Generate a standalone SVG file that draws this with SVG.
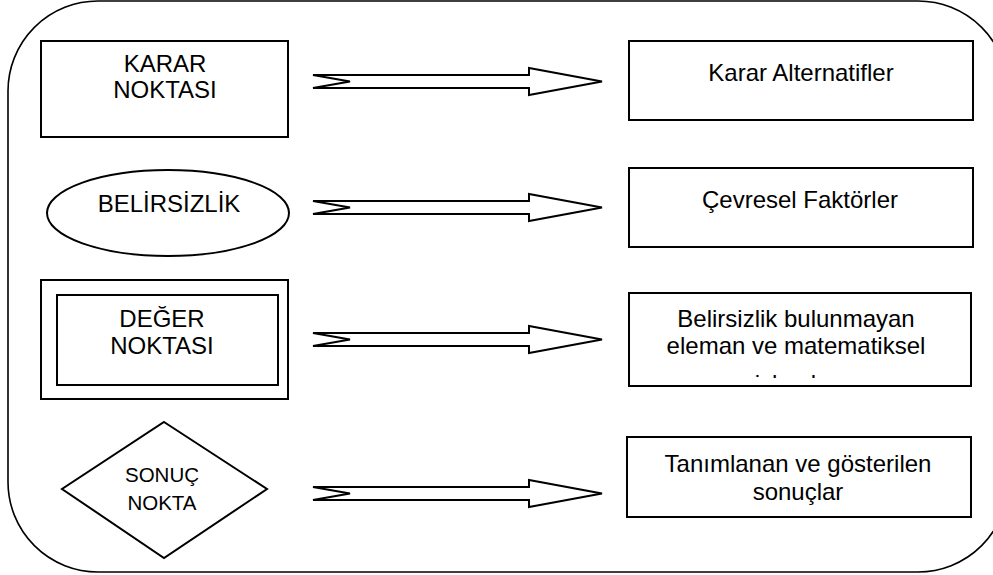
<svg xmlns="http://www.w3.org/2000/svg" width="993" height="575" viewBox="0 0 993 575">
<style>
.sh{fill:#fff;stroke:#000;stroke-width:2}
.t{font-family:"Liberation Sans",Arial,sans-serif;font-size:24px;fill:#000;text-anchor:middle}
.ts{font-family:"Liberation Sans",Arial,sans-serif;font-size:20.5px;fill:#000;text-anchor:middle}
.ar{fill:#fff;stroke:#000;stroke-width:2;stroke-linejoin:miter}
</style>
<defs>
<clipPath id="clip3"><rect x="629" y="293" width="342" height="85"/></clipPath>
</defs>
<rect width="993" height="575" fill="#fff"/>
<rect id="frame" x="8" y="1" width="1000" height="571" rx="90" ry="90" fill="none" stroke="#000" stroke-width="1.6"/>
<g id="karar-noktasi">
<rect class="sh" x="41" y="41" width="247" height="96"/>
<text class="t" x="165" y="72">KARAR</text>
<text class="t" x="165" y="98">NOKTASI</text>
</g>
<g id="karar-alternatifler">
<rect class="sh" x="629" y="41" width="344" height="79"/>
<text class="t" x="801" y="81">Karar Alternatifler</text>
</g>
<g id="belirsizlik">
<ellipse class="sh" cx="168" cy="213" rx="121" ry="43"/>
<text class="t" x="169" y="212">BELİRSİZLİK</text>
</g>
<g id="cevresel-faktorler">
<rect class="sh" x="629" y="168" width="344" height="79"/>
<text class="t" x="800" y="208">Çevresel Faktörler</text>
</g>
<g id="deger-noktasi">
<rect class="sh" x="41" y="280" width="247" height="119"/>
<rect class="sh" x="57" y="295" width="221" height="90"/>
<text class="t" x="162" y="327">DEĞER</text>
<text class="t" x="162" y="354">NOKTASI</text>
</g>
<g id="belirsizlik-bulunmayan">
<rect class="sh" x="629" y="293" width="342" height="93"/>
<text class="t" x="796" y="327">Belirsizlik bulunmayan</text>
<text class="t" x="796" y="354">eleman ve matematiksel</text>
<text class="t" x="796" y="391.5" clip-path="url(#clip3)">işlemler</text>
</g>
<g id="sonuc-nokta">
<polygon class="sh" points="164,422 267,489 164,558 62,489"/>
<text class="ts" x="162" y="482">SONUÇ</text>
<text class="ts" x="162" y="510">NOKTA</text>
</g>
<g id="tanimlanan">
<rect class="sh" x="627" y="437" width="344" height="80"/>
<text class="t" x="798" y="472">Tanımlanan ve gösterilen</text>
<text class="t" x="798" y="500">sonuçlar</text>
</g>
<g id="connectors">
<polygon class="ar" points="313,75 529,75 529,68 602,81.5 529,95 529,88 313,88 350,81.5"/>
<polygon class="ar" points="313,201 529,201 529,194 602,207.5 529,221 529,214 313,214 350,207.5"/>
<polygon class="ar" points="313,333 529,333 529,326 602,339.5 529,353 529,346 313,346 350,339.5"/>
<polygon class="ar" points="313,487 529,487 529,480 602,493.5 529,507 529,500 313,500 350,493.5"/>
</g>
</svg>
